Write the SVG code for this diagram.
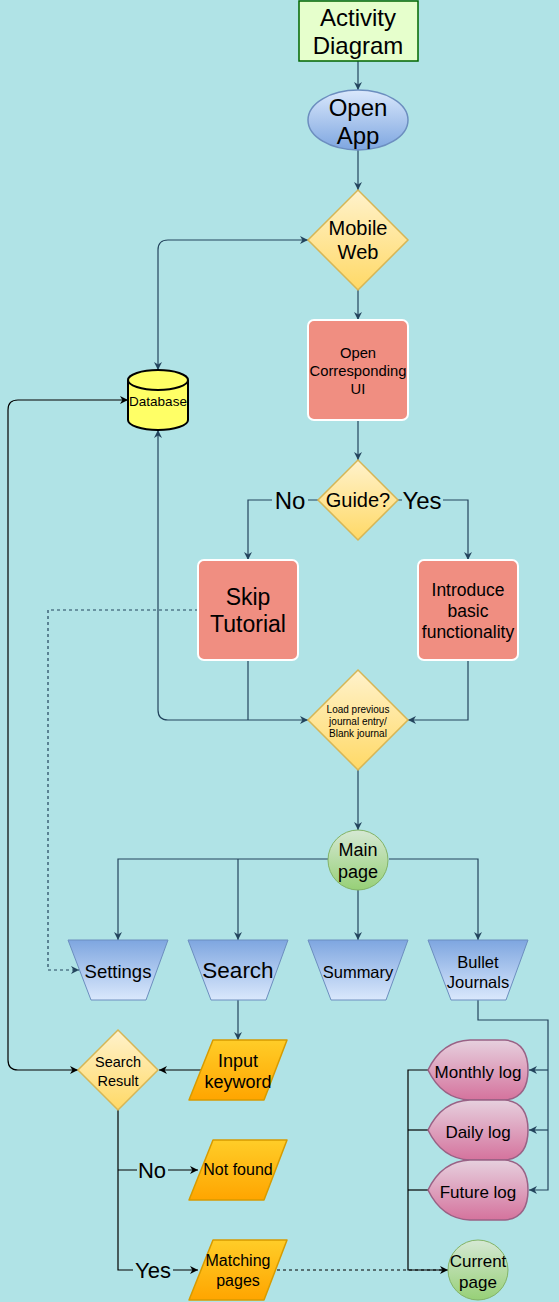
<svg xmlns="http://www.w3.org/2000/svg" width="559" height="1302" viewBox="0 0 559 1302">
<defs>
<linearGradient id="gBlue" x1="0" y1="0" x2="0" y2="1"><stop offset="0" stop-color="#dae8fc"/><stop offset="1" stop-color="#7ea6e0"/></linearGradient>
<linearGradient id="gTrap" x1="0" y1="0" x2="0" y2="1"><stop offset="0" stop-color="#7ea6e0"/><stop offset="1" stop-color="#dae8fc"/></linearGradient>
<linearGradient id="gYel" x1="0" y1="0" x2="0" y2="1"><stop offset="0" stop-color="#fff2cc"/><stop offset="1" stop-color="#ffd966"/></linearGradient>
<linearGradient id="gOr" x1="0" y1="0" x2="0" y2="1"><stop offset="0" stop-color="#ffcd28"/><stop offset="1" stop-color="#ffa500"/></linearGradient>
<linearGradient id="gPink" x1="0" y1="0" x2="0" y2="1"><stop offset="0" stop-color="#e6d0de"/><stop offset="1" stop-color="#d5739d"/></linearGradient>
<linearGradient id="gGreen" x1="0" y1="0" x2="0" y2="1"><stop offset="0" stop-color="#d5e8d4"/><stop offset="1" stop-color="#97d077"/></linearGradient>
<marker id="arr" viewBox="0 0 10 10" refX="10" refY="5" markerWidth="8" markerHeight="8" markerUnits="userSpaceOnUse" orient="auto-start-reverse"><path d="M0,0 L10,5 L0,10 L3,5 Z" fill="#23445d"/></marker>
<marker id="arrk" viewBox="0 0 10 10" refX="10" refY="5" markerWidth="8" markerHeight="8" markerUnits="userSpaceOnUse" orient="auto-start-reverse"><path d="M0,0 L10,5 L0,10 L3,5 Z" fill="#000"/></marker>
</defs>
<style>
text{font-family:"Liberation Sans",Arial,sans-serif;fill:#000;text-anchor:middle}
.c{fill:none;stroke:#23445d;stroke-width:1.2}
.k{fill:none;stroke:#000;stroke-width:1.2}
.proc{fill:#f08e81;stroke:#fff;stroke-width:2}
.dia{fill:url(#gYel);stroke:#d6b656;stroke-width:1.5}
.trap{fill:url(#gTrap);stroke:#6c8ebf;stroke-width:1}
.para{fill:url(#gOr);stroke:#d79b00;stroke-width:1.5;stroke-linejoin:round}
.log{fill:url(#gPink);stroke:#996185;stroke-width:1.5}
.circ{fill:url(#gGreen);stroke:#82b366;stroke-width:1}
</style>
<rect width="559" height="1302" fill="#b0e3e6"/>

<g id="connectors">
<path class="c" d="M358,61 L358,90" marker-end="url(#arr)"/>
<path class="c" d="M358,150 L358,190" marker-end="url(#arr)"/>
<path class="c" d="M358,290 L358,320" marker-end="url(#arr)"/>
<path class="c" d="M358,421 L358,460" marker-end="url(#arr)"/>
<path class="c" d="M158,370 L158,250 Q158,240 168,240 L308,240" marker-start="url(#arr)" marker-end="url(#arr)"/>
<path class="c" d="M318,500 L248,500 L248,560" marker-end="url(#arr)"/>
<path class="c" d="M398,500 L468,500 L468,560" marker-end="url(#arr)"/>
<path class="c" d="M248,660 L248,720"/>
<path class="c" d="M308,720 L168,720 Q158,720 158,710 L158,430" marker-start="url(#arr)" marker-end="url(#arr)"/>
<path class="c" d="M468,661 L468,720 L408,720" marker-end="url(#arr)"/>
<path class="c" d="M358,770 L358,830" marker-end="url(#arr)"/>
<path class="c" d="M198,610 L48,610 L48,970 L79,970" stroke-dasharray="3,3" marker-end="url(#arr)"/>
<path class="c" d="M328,859 L118,859 L118,940" marker-end="url(#arr)"/>
<path class="c" d="M238,859 L238,940" marker-end="url(#arr)"/>
<path class="c" d="M358,890 L358,940" marker-end="url(#arr)"/>
<path class="c" d="M389,859 L478,859 L478,940" marker-end="url(#arr)"/>
<path class="c" d="M238,1000 L238,1040" marker-end="url(#arr)"/>
<path class="k" d="M128,400 L18,400 Q8,400 8,410 L8,1060 Q8,1070 18,1070 L78,1070" marker-start="url(#arrk)" marker-end="url(#arrk)"/>
<path class="k" d="M201,1070 L159,1070" marker-end="url(#arrk)"/>
<path class="k" d="M118,1110 L118,1270 L198,1270" marker-end="url(#arrk)"/>
<path class="k" d="M118,1170 L198,1170" marker-end="url(#arrk)"/>
<path class="c" d="M478,1000 L478,1020 L548,1020 L548,1190 L529,1190" marker-end="url(#arr)"/>
<path class="c" d="M548,1070 L529,1070" marker-end="url(#arr)"/>
<path class="c" d="M548,1130 L529,1130" marker-end="url(#arr)"/>
<path class="k" d="M428,1070 L408,1070 L408,1270 L448,1270" marker-end="url(#arrk)"/>
<path class="k" d="M428,1130 L408,1130"/>
<path class="k" d="M428,1190 L408,1190"/>
<path class="k" d="M277,1270 L446,1270" stroke-dasharray="3,3"/>
<rect x="272" y="486" width="36" height="28" fill="#b0e3e6"/>
<text x="290" y="509" font-size="24">No</text>
<rect x="402" y="486" width="41" height="28" fill="#b0e3e6"/>
<text x="422" y="509" font-size="24">Yes</text>
<rect x="137" y="1157" width="31" height="26" fill="#b0e3e6"/>
<text x="152" y="1178" font-size="22">No</text>
<rect x="133" y="1257" width="40" height="26" fill="#b0e3e6"/>
<text x="153" y="1278" font-size="22">Yes</text>
</g>

<g id="activity-diagram">
<rect x="299" y="1" width="119" height="60" fill="#e6ffcc" stroke="#006600" stroke-width="1.5"/>
<text x="358" y="26" font-size="24">Activity</text>
<text x="358" y="54" font-size="24">Diagram</text>
</g>
<g id="open-app">
<ellipse cx="358" cy="120" rx="50" ry="30" fill="url(#gBlue)" stroke="#6c8ebf" stroke-width="1.5"/>
<text x="358" y="116" font-size="24">Open</text>
<text x="358" y="144" font-size="24">App</text>
</g>
<g id="mobile-web">
<polygon class="dia" points="358,190 408,240 358,290 308,240"/>
<text x="358" y="235" font-size="20">Mobile</text>
<text x="358" y="259" font-size="20">Web</text>
</g>
<g id="open-ui">
<rect class="proc" x="308" y="320" width="100" height="100" rx="6"/>
<text x="358" y="358" font-size="14.8">Open</text>
<text x="358" y="376" font-size="14.8">Corresponding</text>
<text x="358" y="394" font-size="14.8">UI</text>
</g>
<g id="database">
<path d="M128,380 A30,10 0 0 1 188,380 L188,420 A30,10 0 0 1 128,420 Z" fill="#ffff66" stroke="#000" stroke-width="2"/>
<path d="M128,380 A30,10 0 0 0 188,380" fill="none" stroke="#000" stroke-width="2"/>
<text x="158" y="406" font-size="13.5">Database</text>
</g>
<g id="guide">
<polygon class="dia" points="358,460 398,500 358,540 318,500"/>
<text x="358" y="507" font-size="20">Guide?</text>
</g>
<g id="skip-tutorial">
<rect class="proc" x="198" y="560" width="100" height="100" rx="6"/>
<text x="248" y="605" font-size="23">Skip</text>
<text x="248" y="632" font-size="23">Tutorial</text>
</g>
<g id="introduce">
<rect class="proc" x="418" y="560" width="100" height="100" rx="6"/>
<text x="468" y="596" font-size="17.5">Introduce</text>
<text x="468" y="617" font-size="17.5">basic</text>
<text x="468" y="638" font-size="17.5">functionality</text>
</g>
<g id="load-journal">
<polygon class="dia" points="358,670 408,720 358,770 308,720"/>
<text x="358" y="713" font-size="10">Load previous</text>
<text x="358" y="725" font-size="10">journal entry/</text>
<text x="358" y="737" font-size="10">Blank journal</text>
</g>
<g id="main-page">
<circle class="circ" cx="358" cy="860" r="30"/>
<text x="358" y="856" font-size="18">Main</text>
<text x="358" y="878" font-size="18">page</text>
</g>
<g id="settings">
<polygon class="trap" points="68,940 168,940 146,1000 91,1000"/>
<text x="118" y="978" font-size="18.5">Settings</text>
</g>
<g id="search">
<polygon class="trap" points="188,940 288,940 266,1000 211,1000"/>
<text x="238" y="978" font-size="22.5">Search</text>
</g>
<g id="summary">
<polygon class="trap" points="308,940 408,940 386,1000 331,1000"/>
<text x="358" y="978" font-size="16.5">Summary</text>
</g>
<g id="bullet-journals">
<polygon class="trap" points="428,940 528,940 506,1000 451,1000"/>
<text x="478" y="968" font-size="16.5">Bullet</text>
<text x="478" y="988" font-size="16.5">Journals</text>
</g>
<g id="search-result">
<polygon class="dia" points="118,1030 158,1070 118,1110 78,1070"/>
<text x="118" y="1067" font-size="14.5">Search</text>
<text x="118" y="1086" font-size="14.5">Result</text>
</g>
<g id="input-keyword">
<polygon class="para" points="213,1040 287,1040 264,1100 189,1100"/>
<text x="238" y="1067" font-size="18">Input</text>
<text x="238" y="1088" font-size="18">keyword</text>
</g>
<g id="not-found">
<polygon class="para" points="213,1140 287,1140 264,1200 189,1200"/>
<text x="238" y="1175" font-size="16">Not found</text>
</g>
<g id="matching-pages">
<polygon class="para" points="213,1240 287,1240 264,1300 189,1300"/>
<text x="238" y="1266" font-size="16">Matching</text>
<text x="238" y="1286" font-size="16">pages</text>
</g>
<g id="monthly-log">
<path class="log" d="M428,1070 Q442,1041 470,1040 L505,1040 Q528,1042 528,1070 Q528,1098 505,1100 L470,1100 Q442,1099 428,1070 Z"/>
<text x="478" y="1078" font-size="17">Monthly log</text>
</g>
<g id="daily-log">
<path class="log" d="M428,1130 Q442,1101 470,1100 L505,1100 Q528,1102 528,1130 Q528,1158 505,1160 L470,1160 Q442,1159 428,1130 Z"/>
<text x="478" y="1138" font-size="17">Daily log</text>
</g>
<g id="future-log">
<path class="log" d="M428,1190 Q442,1161 470,1160 L505,1160 Q528,1162 528,1190 Q528,1218 505,1220 L470,1220 Q442,1219 428,1190 Z"/>
<text x="478" y="1198" font-size="17">Future log</text>
</g>
<g id="current-page">
<circle class="circ" cx="478" cy="1270" r="30"/>
<text x="478" y="1267" font-size="17">Current</text>
<text x="478" y="1288" font-size="17">page</text>
</g>
</svg>
